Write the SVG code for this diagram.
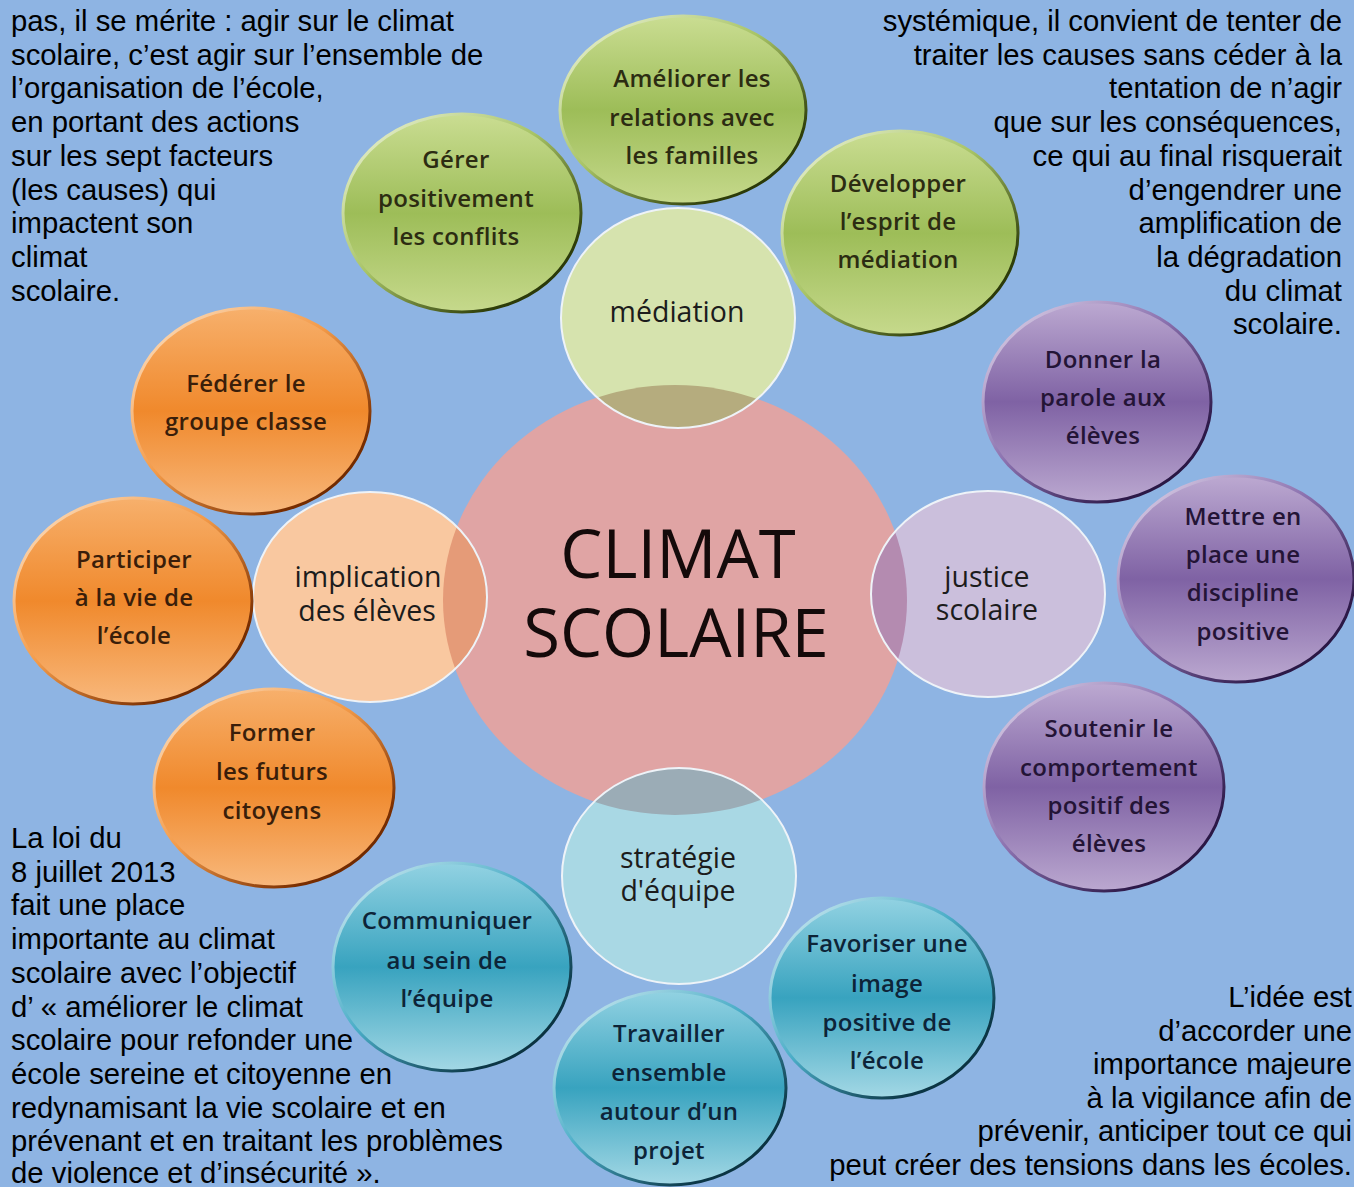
<svg xmlns="http://www.w3.org/2000/svg" width="1354" height="1187" viewBox="0 0 1354 1187">
<defs>
<style>
.corner{font-family:"Liberation Sans",Arial,sans-serif;font-size:29.3px;fill:#000}
.rt{text-anchor:end}
.outer{font-family:"Open Sans","DejaVu Sans",sans-serif;font-weight:600;font-size:24px;text-anchor:middle;letter-spacing:0.3px}
.inner{font-family:"Open Sans","DejaVu Sans",sans-serif;font-size:28.5px;text-anchor:middle;fill:#1c1c1c}
.big{font-family:"Open Sans","DejaVu Sans",sans-serif;font-size:67px;text-anchor:middle;fill:#140a0a}
.g{fill:url(#gGreen);stroke:url(#sGreen);stroke-width:3}
.o{fill:url(#gOrange);stroke:url(#sOrange);stroke-width:3}
.p{fill:url(#gPurple);stroke:url(#sPurple);stroke-width:3}
.t{fill:url(#gTeal);stroke:url(#sTeal);stroke-width:3}
.gt{fill:#2c2c12}.ot{fill:#3a1e0a}.pt{fill:#241436}.tt{fill:#0d2438}
.ring{fill:none;stroke:#eef3f8;stroke-width:2}
</style>
<linearGradient id="gGreen" x1="0" y1="0" x2="0" y2="1"><stop offset="0" stop-color="#cadd92"/><stop offset="0.5" stop-color="#9dbd58"/><stop offset="1" stop-color="#c6d98c"/></linearGradient>
<linearGradient id="sGreen" x1="0" y1="0" x2="1" y2="1"><stop offset="0" stop-color="#f2f7e2"/><stop offset="0.45" stop-color="#a8c466"/><stop offset="0.8" stop-color="#2f3f0a"/><stop offset="1" stop-color="#1e2a04"/></linearGradient>
<linearGradient id="gOrange" x1="0" y1="0" x2="0" y2="1"><stop offset="0" stop-color="#f7b06c"/><stop offset="0.5" stop-color="#f0892c"/><stop offset="1" stop-color="#f8b87c"/></linearGradient>
<linearGradient id="sOrange" x1="0" y1="0" x2="1" y2="1"><stop offset="0" stop-color="#fde8d0"/><stop offset="0.45" stop-color="#f39a48"/><stop offset="0.8" stop-color="#7a2e00"/><stop offset="1" stop-color="#5a2000"/></linearGradient>
<linearGradient id="gPurple" x1="0" y1="0" x2="0" y2="1"><stop offset="0" stop-color="#bca9d1"/><stop offset="0.5" stop-color="#7f62a4"/><stop offset="1" stop-color="#bba8d0"/></linearGradient>
<linearGradient id="sPurple" x1="0" y1="0" x2="1" y2="1"><stop offset="0" stop-color="#e8e0f0"/><stop offset="0.45" stop-color="#8a70ae"/><stop offset="0.8" stop-color="#2e1a4a"/><stop offset="1" stop-color="#1e1034"/></linearGradient>
<linearGradient id="gTeal" x1="0" y1="0" x2="0" y2="1"><stop offset="0" stop-color="#92d2e2"/><stop offset="0.5" stop-color="#38a3bf"/><stop offset="1" stop-color="#a3d8e5"/></linearGradient>
<linearGradient id="sTeal" x1="0" y1="0" x2="1" y2="1"><stop offset="0" stop-color="#e0f2f7"/><stop offset="0.45" stop-color="#4aadc7"/><stop offset="0.8" stop-color="#0c3848"/><stop offset="1" stop-color="#062630"/></linearGradient>
<clipPath id="clipCenter"><ellipse cx="675" cy="600" rx="232" ry="215"/></clipPath>
</defs>

<rect x="0" y="0" width="1354" height="1187" fill="#8eb4e3"/>

<g id="text-top-left" class="corner">
<text x="11" y="31">pas, il se mérite : agir sur le climat</text>
<text x="11" y="64.7">scolaire, c’est agir sur l’ensemble de</text>
<text x="11" y="98.4">l’organisation de l’école,</text>
<text x="11" y="132.1">en portant des actions</text>
<text x="11" y="165.8">sur les sept facteurs</text>
<text x="11" y="199.5">(les causes) qui</text>
<text x="11" y="233.2">impactent son</text>
<text x="11" y="266.9">climat</text>
<text x="11" y="300.6">scolaire.</text>
</g>

<g id="text-top-right" class="corner rt">
<text x="1342" y="31">systémique, il convient de tenter de</text>
<text x="1342" y="64.7">traiter les causes sans céder à la</text>
<text x="1342" y="98.4">tentation de n’agir</text>
<text x="1342" y="132.1">que sur les conséquences,</text>
<text x="1342" y="165.8">ce qui au final risquerait</text>
<text x="1342" y="199.5">d’engendrer une</text>
<text x="1342" y="233.2">amplification de</text>
<text x="1342" y="266.9">la dégradation</text>
<text x="1342" y="300.6">du climat</text>
<text x="1342" y="334.3">scolaire.</text>
</g>

<g id="text-bottom-left" class="corner">
<text x="11" y="848">La loi du</text>
<text x="11" y="881.7">8 juillet 2013</text>
<text x="11" y="915.4">fait une place</text>
<text x="11" y="949.1">importante au climat</text>
<text x="11" y="982.8">scolaire avec l’objectif</text>
<text x="11" y="1016.5">d’ « améliorer le climat</text>
<text x="11" y="1050.2">scolaire pour refonder une</text>
<text x="11" y="1083.9">école sereine et citoyenne en</text>
<text x="11" y="1117.6">redynamisant la vie scolaire et en</text>
<text x="11" y="1151.3">prévenant et en traitant les problèmes</text>
<text x="11" y="1183">de violence et d’insécurité ».</text>
</g>

<g id="text-bottom-right" class="corner rt">
<text x="1352" y="1007">L’idée est</text>
<text x="1352" y="1040.6">d’accorder une</text>
<text x="1352" y="1074.2">importance majeure</text>
<text x="1352" y="1107.8">à la vigilance afin de</text>
<text x="1352" y="1141.4">prévenir, anticiper tout ce qui</text>
<text x="1352" y="1175">peut créer des tensions dans les écoles.</text>
</g>

<g id="connectors"></g>

<g id="node-climat">
<ellipse cx="675" cy="600" rx="232" ry="215" fill="#e0a4a4"/>
<text class="big"><tspan x="678" y="578">CLIMAT</tspan><tspan x="676" y="657">SCOLAIRE</tspan></text>
</g>

<g id="node-mediation">
<ellipse cx="678" cy="318" rx="117" ry="110" fill="#d6e3ae"/>
<ellipse cx="678" cy="318" rx="117" ry="110" fill="#b5ac7e" clip-path="url(#clipCenter)"/>
<ellipse class="ring" cx="678" cy="318" rx="117" ry="110"/>
<text class="inner" x="677" y="322">médiation</text>
</g>

<g id="node-implication">
<ellipse cx="370" cy="597" rx="117" ry="105" fill="#f9c8a0"/>
<ellipse cx="370" cy="597" rx="117" ry="105" fill="#e59b78" clip-path="url(#clipCenter)"/>
<ellipse class="ring" cx="370" cy="597" rx="117" ry="105"/>
<text class="inner"><tspan x="368" y="587">implication</tspan><tspan x="367" y="621">des élèves</tspan></text>
</g>

<g id="node-justice">
<ellipse cx="988" cy="594" rx="117" ry="103" fill="#cbbfdc"/>
<ellipse cx="988" cy="594" rx="117" ry="103" fill="#b48bb0" clip-path="url(#clipCenter)"/>
<ellipse class="ring" cx="988" cy="594" rx="117" ry="103"/>
<text class="inner"><tspan x="987" y="587">justice</tspan><tspan x="987" y="620">scolaire</tspan></text>
</g>

<g id="node-strategie">
<ellipse cx="679" cy="876" rx="117" ry="108" fill="#a9d8e4"/>
<ellipse cx="679" cy="876" rx="117" ry="108" fill="#9bacb6" clip-path="url(#clipCenter)"/>
<ellipse class="ring" cx="679" cy="876" rx="117" ry="108"/>
<text class="inner"><tspan x="678" y="868">stratégie</tspan><tspan x="678" y="901">d'équipe</tspan></text>
</g>

<g id="node-gerer">
<ellipse class="g" cx="462" cy="213" rx="119" ry="99"/>
<text class="outer gt" x="456" y="168">Gérer</text>
<text class="outer gt" x="456" y="207">positivement</text>
<text class="outer gt" x="456" y="245">les conflits</text>
</g>

<g id="node-ameliorer">
<ellipse class="g" cx="683" cy="110" rx="123" ry="94"/>
<text class="outer gt" x="692" y="87">Améliorer les</text>
<text class="outer gt" x="692" y="126">relations avec</text>
<text class="outer gt" x="692" y="164">les familles</text>
</g>

<g id="node-developper">
<ellipse class="g" cx="900" cy="233" rx="118" ry="102"/>
<text class="outer gt" x="898" y="192">Développer</text>
<text class="outer gt" x="898" y="230">l’esprit de</text>
<text class="outer gt" x="898" y="268">médiation</text>
</g>

<g id="node-federer">
<ellipse class="o" cx="251" cy="411" rx="119" ry="103"/>
<text class="outer ot" x="246" y="392">Fédérer le</text>
<text class="outer ot" x="246" y="430">groupe classe</text>
</g>

<g id="node-participer">
<ellipse class="o" cx="133" cy="601" rx="119" ry="103"/>
<text class="outer ot" x="134" y="568">Participer</text>
<text class="outer ot" x="134" y="606">à la vie de</text>
<text class="outer ot" x="134" y="644">l’école</text>
</g>

<g id="node-former">
<ellipse class="o" cx="274" cy="788" rx="120" ry="99"/>
<text class="outer ot" x="272" y="741">Former</text>
<text class="outer ot" x="272" y="780">les futurs</text>
<text class="outer ot" x="272" y="819">citoyens</text>
</g>

<g id="node-donner">
<ellipse class="p" cx="1097" cy="402" rx="114" ry="100"/>
<text class="outer pt" x="1103" y="368">Donner la</text>
<text class="outer pt" x="1103" y="406">parole aux</text>
<text class="outer pt" x="1103" y="444">élèves</text>
</g>

<g id="node-mettre">
<ellipse class="p" cx="1236" cy="579" rx="118" ry="103"/>
<text class="outer pt" x="1243" y="525">Mettre en</text>
<text class="outer pt" x="1243" y="563">place une</text>
<text class="outer pt" x="1243" y="601">discipline</text>
<text class="outer pt" x="1243" y="640">positive</text>
</g>

<g id="node-soutenir">
<ellipse class="p" cx="1104" cy="787" rx="120" ry="104"/>
<text class="outer pt" x="1109" y="737">Soutenir le</text>
<text class="outer pt" x="1109" y="776">comportement</text>
<text class="outer pt" x="1109" y="814">positif des</text>
<text class="outer pt" x="1109" y="852">élèves</text>
</g>

<g id="node-communiquer">
<ellipse class="t" cx="452" cy="967" rx="119" ry="104"/>
<text class="outer tt" x="447" y="929">Communiquer</text>
<text class="outer tt" x="447" y="969">au sein de</text>
<text class="outer tt" x="447" y="1007">l’équipe</text>
</g>

<g id="node-travailler">
<ellipse class="t" cx="670" cy="1088" rx="116" ry="97"/>
<text class="outer tt" x="669" y="1042">Travailler</text>
<text class="outer tt" x="669" y="1081">ensemble</text>
<text class="outer tt" x="669" y="1120">autour d’un</text>
<text class="outer tt" x="669" y="1159">projet</text>
</g>

<g id="node-favoriser">
<ellipse class="t" cx="882" cy="998" rx="112" ry="100"/>
<text class="outer tt" x="887" y="952">Favoriser une</text>
<text class="outer tt" x="887" y="992">image</text>
<text class="outer tt" x="887" y="1031">positive de</text>
<text class="outer tt" x="887" y="1069">l’école</text>
</g>
</svg>
